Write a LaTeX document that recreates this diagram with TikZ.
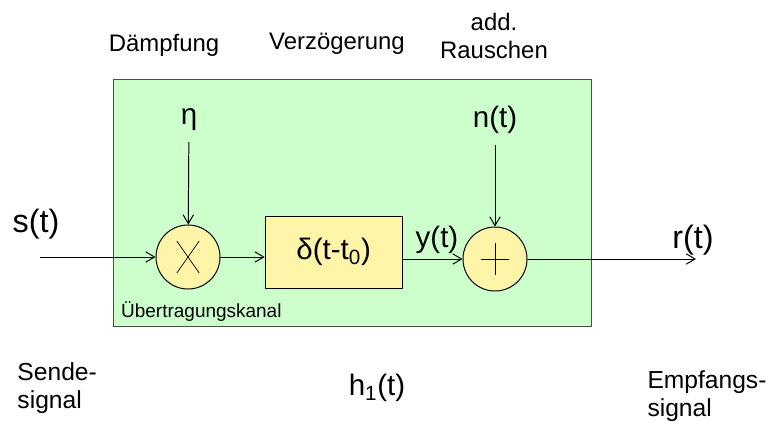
\documentclass[tikz,border=0pt]{standalone}
\usepackage{fontspec}
\setmainfont{Liberation Sans}
\usetikzlibrary{arrows.meta}

\definecolor{kanalgruen}{HTML}{CCFFCC}
\definecolor{blockgelb}{HTML}{FFF5A8}

\tikzstyle{kanal} = [draw=black!70,fill=kanalgruen,minimum width=11.95cm,minimum height=6.175cm]
\tikzstyle{glied} = [circle,draw,fill=blockgelb,minimum size=1.6cm,inner sep=0pt]
\tikzstyle{block} = [draw,fill=blockgelb,minimum width=3.425cm,minimum height=1.8cm]
\tikzstyle{gross} = [font=\fontsize{21}{25}\selectfont]
\tikzstyle{grosser} = [font=\fontsize{23}{27}\selectfont]
\tikzstyle{beschr} = [font=\fontsize{17}{20}\selectfont,align=left]
\tikzstyle{unten} = [font=\fontsize{17.5}{19.5}\selectfont,align=left,anchor=west,inner sep=0pt]
\tikzstyle{pfeil} = [-{Straight Barb[length=2.2mm,width=2.6mm]}]

\begin{document}
\begin{tikzpicture}[line width=0.7pt]
		\useasboundingbox (0,0) rectangle (19.4,-10.525);
		\node[kanal] (kanal) at (8.8,-5.0625) {};
		\node[anchor=west,font=\fontsize{13.5}{16}\selectfont] (kname) at (2.9,-7.8) {Übertragungskanal};

		\node[glied] (mul) at (4.7,-6.425) {};
		\node[block,gross] (del) at (8.34,-6.3) {δ(t-t\textsubscript{0})};
		\node[glied] (sum) at (12.375,-6.475) {};
		\draw[line width=0.5pt] ([shift={(-0.28,0.4)}]mul.center) -- ([shift={(0.28,-0.4)}]mul.center);
		\draw[line width=0.5pt] ([shift={(-0.28,-0.4)}]mul.center) -- ([shift={(0.28,0.4)}]mul.center);
		\draw[line width=0.5pt] ([xshift=-0.36cm]sum.center) -- ([xshift=0.36cm]sum.center);
		\draw[line width=0.5pt] ([yshift=-0.4cm]sum.center) -- ([yshift=0.4cm]sum.center);

		\node[gross] (eta) at (4.725,-3.0) {η};
		\node[gross] (noise) at (12.375,-3.0) {n(t)};
		\node[grosser] (sin) at (0.9,-5.6) {s(t)};
		\node[grosser] (rout) at (17.325,-6.0) {r(t)};
		\node[gross] (yout) at (10.925,-6.0) {y(t)};
		\coordinate (ein) at (1.0,-6.425);
		\coordinate (aus) at (17.4,-6.475);

		\draw[pfeil] (ein) -- (mul);
		\draw[pfeil] (mul.east) -- (mul.east -| del.west);
		\draw[pfeil] (del.east |- sum) -- (sum);
		\draw[pfeil] (sum) -- (aus);
		\draw[pfeil,shorten <=0.15cm] (eta) -- (mul);
		\draw[pfeil,shorten <=0.15cm] (noise) -- (sum);

		\node[beschr] (daempf) at (4.1,-1.125) {Dämpfung};
		\node[beschr] (verz) at (8.425,-1.1) {Verzögerung};
		\node[beschr,align=center] (rausch) at (12.35,-0.9) {add.\\Rauschen};
		\node[unten] (sende) at (0.425,-9.7) {Sende-\\signal};
		\node[gross] (hkanal) at (9.425,-9.7) {h\textsubscript{1}(t)};
		\node[unten] (empf) at (16.175,-9.9) {Empfangs-\\signal};
\end{tikzpicture}
\end{document}
